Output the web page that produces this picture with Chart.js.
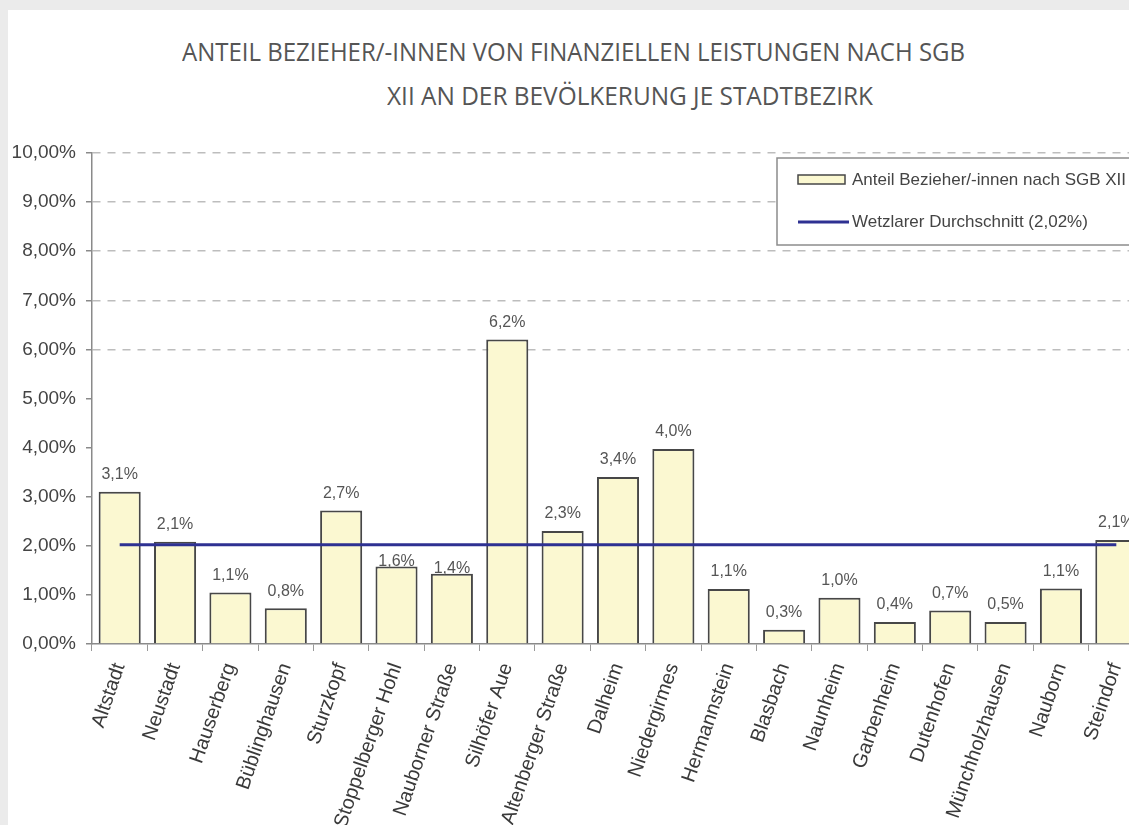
<!DOCTYPE html>
<html lang="de">
<head>
<meta charset="utf-8">
<title>Anteil Bezieher/-innen SGB XII je Stadtbezirk</title>
<script src="https://cdn.jsdelivr.net/npm/chart.js@4.4.1/dist/chart.umd.min.js"></script>
<style>
  html, body { margin: 0; padding: 0; width: 1129px; height: 825px; overflow: hidden; background: #ebebeb; }
  .panel { position: absolute; left: 8px; top: 10px; width: 1200px; height: 900px; background: #fff; }
  .title { position: absolute; white-space: nowrap; font-family: 'Open Sans', 'DejaVu Sans', sans-serif;
           font-size: 26px; line-height: 26px; color: #555; transform-origin: 0 0; }
  #chartBox { position: absolute; left: 0; top: 0; width: 1160px; height: 844px; }
</style>
</head>
<body>
<div class="panel"></div>
<div class="title" id="title1" style="top:38px"></div>
<div class="title" id="title2" style="top:82px"></div>
<div id="chartBox"><canvas id="sgbChart"></canvas></div>
<script>
const titleLines = [
  'ANTEIL BEZIEHER/-INNEN VON FINANZIELLEN LEISTUNGEN NACH SGB',
  'XII AN DER BEVÖLKERUNG JE STADTBEZIRK'
];
const districts = ['Altstadt', 'Neustadt', 'Hauserberg', 'Büblinghausen', 'Sturzkopf', 'Stoppelberger Hohl',
  'Nauborner Straße', 'Silhöfer Aue', 'Altenberger Straße', 'Dalheim', 'Niedergirmes', 'Hermannstein',
  'Blasbach', 'Naunheim', 'Garbenheim', 'Dutenhofen', 'Münchholzhausen', 'Nauborn', 'Steindorf'];
const shares = [3.10, 2.08, 1.05, 0.73, 2.72, 1.58, 1.43, 6.20, 2.30, 3.40, 3.97, 1.12, 0.29, 0.94, 0.45, 0.68, 0.45, 1.13, 2.12];
const shareLabels = ['3,1%', '2,1%', '1,1%', '0,8%', '2,7%', '1,6%', '1,4%', '6,2%', '2,3%', '3,4%', '4,0%',
  '1,1%', '0,3%', '1,0%', '0,4%', '0,7%', '0,5%', '1,1%', '2,1%'];
const cityAverage = 2.02;
const seriesNames = ['Anteil Bezieher/-innen nach SGB XII', 'Wetzlarer Durchschnitt (2,02%)'];
const yTickValues = [0, 1, 2, 3, 4, 5, 6, 7, 8, 9, 10];
const dashedFrom = 6; // the picture only shows dashed grid lines from 6 % upwards

const barFill = '#fbf8d1';
const barEdge = '#474747';
const avgColor = '#2e3192';

// title lines are squeezed to the width they have in the picture
function fitTitle(id, text, left, right) {
  const el = document.getElementById(id);
  el.textContent = text;
  el.style.left = left + 'px';
  const w = el.getBoundingClientRect().width;
  el.style.transform = 'scaleX(' + ((right - left) / w) + ')';
}
fitTitle('title1', titleLines[0], 182, 965);
fitTitle('title2', titleLines[1], 387, 873);

const barValueLabels = {
  id: 'barValueLabels',
  afterDatasetsDraw(chart) {
    const ctx = chart.ctx;
    const meta = chart.getDatasetMeta(0);
    const avgY = chart.scales.y.getPixelForValue(cityAverage);
    ctx.save();
    ctx.font = '16px "Liberation Sans", Arial, sans-serif';
    ctx.fillStyle = '#555';
    ctx.textAlign = 'center';
    ctx.textBaseline = 'bottom';
    meta.data.forEach((bar, i) => {
      let base = bar.y - 9;
      // labels that would sit on the average line drop down onto the bar top
      if (avgY > base - 22 && avgY < base + 2) base = bar.y + 3;
      ctx.fillText(shareLabels[i], bar.x, base);
    });
    ctx.restore();
  }
};

const boxLegend = {
  id: 'boxLegend',
  afterDraw(chart) {
    const ctx = chart.ctx;
    const sets = chart.data.datasets;
    ctx.save();
    ctx.fillStyle = '#fff';
    ctx.strokeStyle = '#8c8c8c';
    ctx.lineWidth = 1.5;
    ctx.fillRect(777, 158, 400, 87);
    ctx.strokeRect(777, 158, 400, 87);

    ctx.fillStyle = sets[0].backgroundColor;
    ctx.fillRect(798, 175, 47, 9);
    ctx.strokeStyle = sets[0].borderColor;
    ctx.strokeRect(798, 175, 47, 9);

    ctx.strokeStyle = sets[1].borderColor;
    ctx.lineWidth = 3;
    ctx.beginPath();
    ctx.moveTo(798, 222);
    ctx.lineTo(849, 222);
    ctx.stroke();

    ctx.font = '17px "Liberation Sans", Arial, sans-serif';
    ctx.fillStyle = '#444';
    ctx.textBaseline = 'middle';
    ctx.fillText(sets[0].label, 852, 180);
    ctx.fillText(sets[1].label, 852, 222);
    ctx.restore();
  }
};

new Chart(document.getElementById('sgbChart'), {
  type: 'bar',
  data: {
    labels: districts,
    datasets: [{
      type: 'bar',
      label: seriesNames[0],
      data: shares,
      backgroundColor: barFill,
      borderColor: barEdge,
      borderWidth: 2,
      barPercentage: 0.76,
      categoryPercentage: 1,
      order: 1
    }, {
      type: 'line',
      label: seriesNames[1],
      data: districts.map(() => cityAverage),
      borderColor: avgColor,
      borderWidth: 3,
      pointRadius: 0,
      fill: false,
      order: 0
    }]
  },
  options: {
    responsive: true,
    maintainAspectRatio: false,
    animation: false,
    layout: { padding: { left: 8, right: 16, top: 153, bottom: 0 } },
    plugins: { legend: { display: false }, tooltip: { enabled: false }, title: { display: false } },
    scales: {
      x: {
        offset: true,
        afterFit(scale) { scale.height = 200; },
        grid: { offset: true, drawOnChartArea: false, tickLength: 7, color: '#999', lineWidth: 1 },
        border: { color: '#8a8a8a', width: 1.5 },
        ticks: {
          autoSkip: false, minRotation: 71, maxRotation: 71, padding: 9,
          color: '#3a3a3a', font: { family: '"Liberation Sans", Arial, sans-serif', size: 20 }
        }
      },
      y: {
        min: yTickValues[0], max: yTickValues[yTickValues.length - 1],
        afterFit(scale) { scale.width = 84; },
        afterBuildTicks(scale) { scale.ticks = yTickValues.map((v) => ({ value: v })); },
        grid: {
          color: yTickValues.map((v) => (v >= dashedFrom ? '#bdbdbd' : 'rgba(0,0,0,0)')),
          lineWidth: 1.5, tickLength: 6, tickColor: '#8a8a8a', tickBorderDash: [], tickWidth: 1.5
        },
        border: { color: '#8a8a8a', width: 1.5, dash: [8, 7] },
        ticks: {
          padding: 10, color: '#444',
          font: { family: '"Liberation Sans", Arial, sans-serif', size: 19 },
          callback: (v) => v.toFixed(2).replace('.', ',') + '%'
        }
      }
    }
  },
  plugins: [barValueLabels, boxLegend]
});
</script>
</body>
</html>
